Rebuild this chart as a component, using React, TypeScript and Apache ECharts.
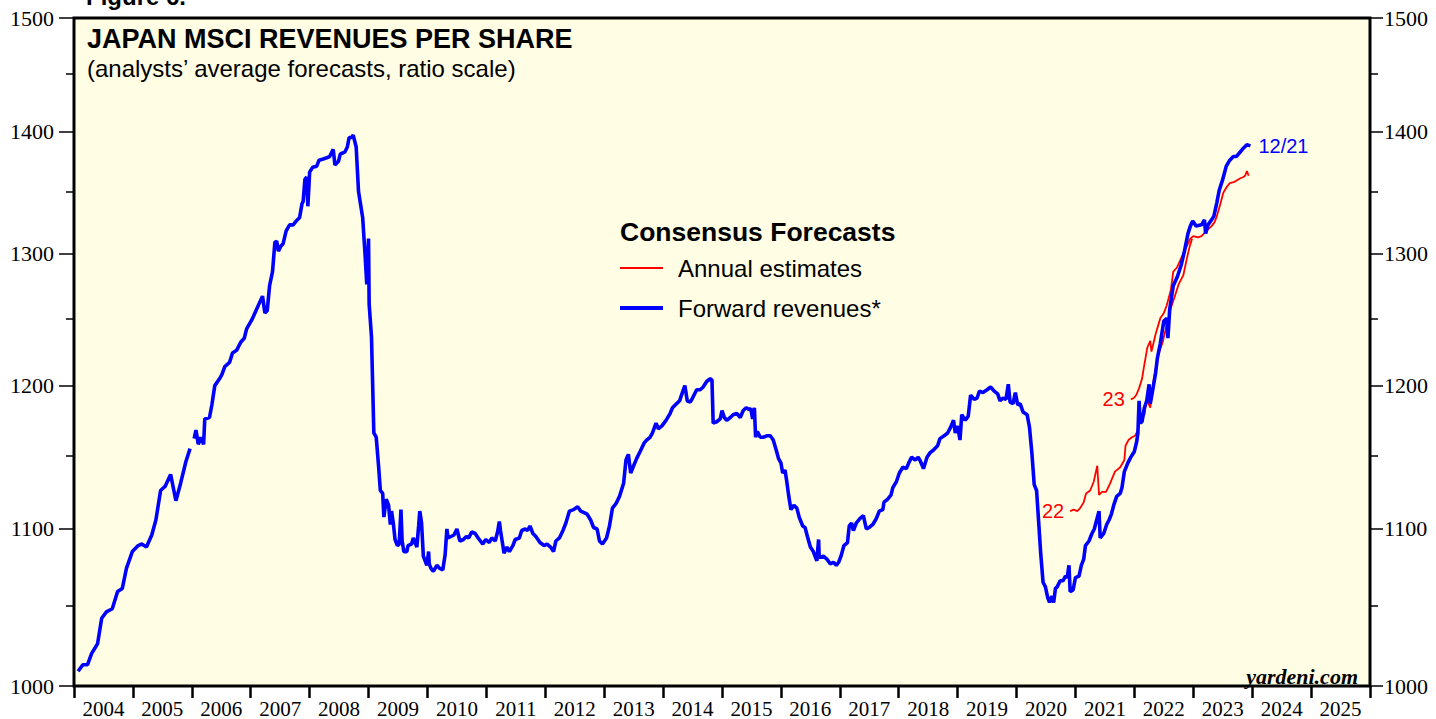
import React, { useEffect, useRef } from "react";
import * as echarts from "echarts";

// ---------- DATA ----------
const yearLabels = [
  "2004", "2005", "2006", "2007", "2008", "2009", "2010", "2011", "2012", "2013", "2014",
  "2015", "2016", "2017", "2018", "2019", "2020", "2021", "2022", "2023", "2024", "2025",
];
const yMajorTicks = [1000, 1100, 1200, 1300, 1400, 1500];
const yMinorTicks = [1050, 1150, 1250, 1350, 1450];

// Forward revenues (decimal year, value); null = gap in the series
const forwardDates = [
  2004.07, 2004.15, 2004.23, 2004.3, 2004.4, 2004.47, 2004.55, 2004.65, 2004.74, 2004.82, 2004.89, 2004.99,
  2005.09, 2005.15, 2005.23, 2005.32, 2005.39, 2005.47, 2005.55, 2005.64, 2005.73, 2005.81, 2005.9, 2005.97,
  2006.0, 2006.04, 2006.07, 2006.11, 2006.15, 2006.2, 2006.22, 2006.3, 2006.34, 2006.39, 2006.47, 2006.51,
  2006.56, 2006.64, 2006.69, 2006.76, 2006.83, 2006.89, 2006.93, 2007.02, 2007.09, 2007.15, 2007.2, 2007.24,
  2007.28, 2007.32, 2007.37, 2007.41, 2007.44, 2007.47, 2007.51, 2007.55, 2007.6, 2007.66, 2007.72, 2007.77,
  2007.83, 2007.87, 2007.89, 2007.92, 2007.95, 2007.97, 2008.0, 2008.05, 2008.12, 2008.16, 2008.23, 2008.29,
  2008.34, 2008.4, 2008.43, 2008.49, 2008.52, 2008.6, 2008.64, 2008.67, 2008.71, 2008.74, 2008.79, 2008.83,
  2008.86, 2008.9, 2008.94, 2008.97, 2009.0, 2009.01, 2009.05, 2009.09, 2009.13, 2009.17, 2009.2, 2009.24,
  2009.26, 2009.3, 2009.34, 2009.37, 2009.39, 2009.42, 2009.45, 2009.49, 2009.52, 2009.55, 2009.57, 2009.6,
  2009.65, 2009.67, 2009.73, 2009.76, 2009.79, 2009.82, 2009.85, 2009.87, 2009.9, 2009.93, 2009.96, 2009.99,
  2010.02, 2010.03, 2010.06, 2010.1, 2010.16, 2010.21, 2010.26, 2010.3, 2010.33, 2010.35, 2010.4, 2010.45,
  2010.5, 2010.55, 2010.61, 2010.66, 2010.7, 2010.75, 2010.81, 2010.86, 2010.94, 2010.99, 2011.05, 2011.09,
  2011.15, 2011.19, 2011.22, 2011.24, 2011.28, 2011.3, 2011.35, 2011.39, 2011.45, 2011.49, 2011.56, 2011.6,
  2011.66, 2011.7, 2011.74, 2011.79, 2011.84, 2011.91, 2011.98, 2012.03, 2012.09, 2012.14, 2012.18, 2012.24,
  2012.3, 2012.35, 2012.41, 2012.48, 2012.55, 2012.6, 2012.66, 2012.71, 2012.77, 2012.82, 2012.88, 2012.92,
  2012.97, 2013.04, 2013.09, 2013.14, 2013.2, 2013.26, 2013.33, 2013.37, 2013.41, 2013.45, 2013.5, 2013.55,
  2013.61, 2013.68, 2013.72, 2013.78, 2013.82, 2013.88, 2013.92, 2013.98, 2014.05, 2014.12, 2014.16, 2014.23,
  2014.28, 2014.32, 2014.37, 2014.41, 2014.46, 2014.5, 2014.57, 2014.63, 2014.68, 2014.74, 2014.8, 2014.83,
  2014.85, 2014.91, 2014.97, 2015.0, 2015.04, 2015.08, 2015.14, 2015.19, 2015.25, 2015.31, 2015.36, 2015.41,
  2015.45, 2015.49, 2015.52, 2015.55, 2015.57, 2015.6, 2015.65, 2015.7, 2015.76, 2015.82, 2015.87, 2015.92,
  2015.96, 2016.0, 2016.03, 2016.07, 2016.1, 2016.13, 2016.17, 2016.22, 2016.27, 2016.31, 2016.37, 2016.41,
  2016.45, 2016.5, 2016.55, 2016.61, 2016.64, 2016.65, 2016.72, 2016.78, 2016.84, 2016.89, 2016.94, 2016.98,
  2017.02, 2017.07, 2017.13, 2017.16, 2017.2, 2017.23, 2017.28, 2017.34, 2017.4, 2017.45, 2017.5, 2017.56,
  2017.62, 2017.67, 2017.73, 2017.75, 2017.81, 2017.87, 2017.9, 2017.96, 2018.01, 2018.07, 2018.13, 2018.17,
  2018.22, 2018.28, 2018.33, 2018.37, 2018.42, 2018.48, 2018.53, 2018.59, 2018.66, 2018.7, 2018.77, 2018.83,
  2018.88, 2018.93, 2018.96, 2019.0, 2019.04, 2019.07, 2019.13, 2019.18, 2019.22, 2019.28, 2019.33, 2019.37,
  2019.43, 2019.5, 2019.56, 2019.62, 2019.68, 2019.72, 2019.77, 2019.82, 2019.86, 2019.89, 2019.94, 2019.98,
  2020.02, 2020.06, 2020.11, 2020.18, 2020.22, 2020.26, 2020.3, 2020.34, 2020.37, 2020.41, 2020.45, 2020.49,
  2020.53, 2020.56, 2020.6, 2020.63, 2020.66, 2020.69, 2020.74, 2020.79, 2020.83, 2020.86, 2020.89, 2020.91,
  2020.96, 2021.0, 2021.06, 2021.1, 2021.14, 2021.17, 2021.23, 2021.28, 2021.32, 2021.36, 2021.4, 2021.42,
  2021.48, 2021.53, 2021.57, 2021.61, 2021.65, 2021.7, 2021.76, 2021.79, 2021.83, 2021.89, 2021.94, 2022.0,
  2022.04, 2022.06, 2022.08, 2022.1, 2022.13, 2022.17, 2022.21, 2022.25, 2022.27, 2022.3, 2022.36, 2022.39,
  2022.44, 2022.5, 2022.55, 2022.57, 2022.6, 2022.66, 2022.73, 2022.8, 2022.85, 2022.91, 2022.95, 2022.99,
  2023.05, 2023.14, 2023.19, 2023.21, 2023.25, 2023.31, 2023.35, 2023.4, 2023.44, 2023.5, 2023.56, 2023.62,
  2023.68, 2023.73, 2023.8, 2023.85, 2023.91, 2023.97,
];
const forwardRevenues = [
  1009, 1013, 1013, 1020, 1026, 1042, 1046, 1048, 1059, 1061, 1074, 1085,
  1089, 1090, 1088, 1096, 1106, 1126, 1129, 1137, 1119, 1131, 1146, 1155,
  null, 1162, 1168, 1158, 1163, 1158, 1176, 1177, 1186, 1200, 1205, 1208,
  1214, 1217, 1224, 1226, 1232, 1235, 1242, 1249, 1256, 1262, 1267, 1254,
  1256, 1275, 1286, 1309, 1310, 1302, 1306, 1308, 1318, 1323, 1323, 1326,
  1329, 1340, 1342, 1360, 1362, 1338, 1366, 1370, 1371, 1376, 1377, 1378,
  1379, 1385, 1372, 1375, 1381, 1383, 1387, 1395, 1395, 1397, 1387, 1350,
  1341, 1329, 1300, 1276, 1312, 1261, 1236, 1166, 1163, 1143, 1126, 1124,
  1108, 1120, 1116, 1103, 1112, 1104, 1093, 1089, 1090, 1113, 1092, 1085,
  1085, 1089, 1090, 1094, 1091, 1088, 1102, 1112, 1104, 1082, 1079, 1076,
  1085, 1077, 1074, 1072, 1076, 1074, 1073, 1083, 1100, 1094, 1095, 1096,
  1100, 1092, 1093, 1095, 1094, 1098, 1097, 1094, 1090, 1093, 1091, 1094,
  1092, 1098, 1105, 1099, 1089, 1084, 1088, 1085, 1089, 1093, 1094, 1099,
  1100, 1099, 1102, 1097, 1095, 1091, 1089, 1090, 1088, 1085, 1092, 1094,
  1099, 1104, 1112, 1113, 1115, 1112, 1111, 1110, 1106, 1101, 1100, 1092,
  1090, 1094, 1102, 1114, 1117, 1122, 1131, 1147, 1151, 1138, 1143, 1148,
  1153, 1159, 1161, 1163, 1166, 1173, 1169, 1171, 1175, 1180, 1184, 1187,
  1189, 1194, 1200, 1189, 1188, 1191, 1197, 1197, 1199, 1203, 1205, 1204,
  1173, 1174, 1176, 1182, 1177, 1175, 1177, 1179, 1180, 1177, 1182, 1184,
  1183, 1183, 1176, 1184, 1163, 1167, 1163, 1163, 1164, 1164, 1161, 1154,
  1148, 1145, 1138, 1140, 1132, 1123, 1113, 1116, 1114, 1108, 1102, 1101,
  1095, 1088, 1085, 1079, 1093, 1081, 1082, 1080, 1077, 1078, 1076, 1078,
  1082, 1089, 1091, 1102, 1104, 1099, 1104, 1107, 1109, 1100, 1101, 1103,
  1107, 1112, 1113, 1118, 1120, 1123, 1128, 1132, 1138, 1142, 1141, 1145,
  1149, 1147, 1149, 1146, 1141, 1149, 1152, 1154, 1157, 1162, 1164, 1166,
  1170, 1175, 1166, 1171, 1161, 1179, 1175, 1178, 1193, 1190, 1191, 1196,
  1195, 1197, 1199, 1196, 1194, 1189, 1191, 1190, 1201, 1188, 1187, 1195,
  1186, 1187, 1181, 1179, 1170, 1152, 1130, 1126, 1108, 1084, 1065, 1062,
  1055, 1052, 1056, 1052, 1061, 1062, 1066, 1066, 1069, 1068, 1076, 1059,
  1060, 1068, 1069, 1076, 1080, 1089, 1092, 1097, 1100, 1106, 1112, 1094,
  1097, 1103, 1106, 1110, 1116, 1122, 1124, 1128, 1139, 1145, 1149, 1153,
  1160, 1166, 1189, 1173, 1174, 1184, 1189, 1201, 1187, 1194, 1209, 1220,
  1231, 1248, 1250, 1235, 1257, 1275, 1282, 1292, 1302, 1316, 1322, 1326,
  1322, 1323, 1327, 1316, 1323, 1327, 1330, 1341, 1351, 1360, 1371, 1376,
  1379, 1379, 1383, 1386, 1389, 1388,
];

// Annual estimates for 2022
const est22Dates = [
  2020.91, 2020.97, 2021.03, 2021.08, 2021.14, 2021.18, 2021.25, 2021.31, 2021.37, 2021.4, 2021.45, 2021.52,
  2021.59, 2021.67, 2021.76, 2021.83, 2021.85, 2021.9, 2021.96, 2022.01, 2022.05, 2022.1, 2022.17, 2022.21,
  2022.27, 2022.33, 2022.4, 2022.48, 2022.55, 2022.62, 2022.68, 2022.75, 2022.83, 2022.89, 2022.94, 2022.98,
];
const est22Values = [
  1112, 1113, 1112, 1114, 1118, 1124, 1126, 1132, 1143, 1123, 1125, 1125,
  1131, 1139, 1142, 1147, 1157, 1161, 1163, 1164, 1167, 1175, 1179, 1190,
  1184, 1205, 1222, 1232, 1245, 1258, 1266, 1276, 1283, 1296, 1306, 1312,
];

// Annual estimates for 2023
const est23Dates = [
  2021.94, 2021.99, 2022.03, 2022.08, 2022.13, 2022.16, 2022.22, 2022.27, 2022.29, 2022.36, 2022.44, 2022.5,
  2022.55, 2022.62, 2022.66, 2022.72, 2022.78, 2022.86, 2022.95, 2023.0, 2023.08, 2023.14, 2023.22, 2023.31,
  2023.36, 2023.4, 2023.46, 2023.51, 2023.57, 2023.62, 2023.7, 2023.8, 2023.85, 2023.88, 2023.91, 2023.94,
];
const est23Values = [
  1190, 1191, 1193, 1198, 1205, 1213, 1228, 1233, 1225, 1238, 1250, 1254,
  1260, 1272, 1286, 1289, 1295, 1303, 1312, 1314, 1313, 1314, 1318, 1322,
  1325, 1330, 1340, 1349, 1354, 1357, 1358, 1361, 1362, 1363, 1367, 1363,
];

// ---------- STYLE ----------
const SANS = "'Liberation Sans', Arial, Helvetica, sans-serif";
const SERIF = "'Liberation Serif', 'Times New Roman', Times, serif";
const BLUE = "#0000FF";
const RED = "#FF0000";

function zip(xs: number[], ys: (number | null)[]) {
  return xs.map((x, i) => [x, ys[i] === null ? "-" : ys[i]]);
}

function startLabelled(xs: number[], ys: number[], label: string) {
  const pts: any[] = zip(xs, ys);
  pts[0] = {
    value: pts[0],
    label: {
      show: true,
      position: "left",
      distance: 6,
      formatter: label,
      color: RED,
      fontSize: 20,
      fontFamily: SANS,
    },
  };
  return pts;
}

export default function App() {
  const ref = useRef<HTMLDivElement>(null);

  useEffect(() => {
    if (!ref.current) return;
    const chart = echarts.init(ref.current, null, { renderer: "svg" });

    const yBase = {
      type: "log",
      logBase: 10,
      min: 1000,
      max: 1500,
      splitLine: { show: false },
      axisLine: { show: false },
    };
    const plain = (v: number) => String(Math.round(v));

    const option: any = {
      animation: false,
      backgroundColor: "#FFFFFF",
      title: {
        text: "JAPAN MSCI REVENUES PER SHARE",
        subtext: "(analysts’ average forecasts, ratio scale)",
        left: 87,
        top: 25,
        padding: 0,
        itemGap: 4,
        textStyle: { fontSize: 27, fontWeight: "bold", color: "#000", fontFamily: SANS },
        subtextStyle: { fontSize: 24, color: "#000", fontFamily: SANS },
      },
      legend: {
        orient: "vertical",
        left: 620,
        top: 256,
        padding: 0,
        itemWidth: 43,
        itemHeight: 14,
        itemGap: 16,
        selectedMode: false,
        data: [
          {
            name: "Annual estimates",
            icon: "path://M0,0h43v2h-43z",
            itemStyle: { color: RED, borderWidth: 0 },
          },
          {
            name: "Forward revenues*",
            icon: "path://M0,0h43v4h-43z",
            itemStyle: { color: BLUE, borderWidth: 0 },
          },
        ],
        textStyle: {
          fontSize: 24,
          lineHeight: 24,
          color: "#000",
          fontFamily: SANS,
          padding: [0, 0, 0, 10],
        },
      },
      grid: {
        left: 74,
        right: 66,
        top: 18,
        bottom: 24,
        show: true,
        backgroundColor: "#FFFEE4",
        borderColor: "#000",
        borderWidth: 3,
        containLabel: false,
      },
      xAxis: [
        {
          type: "value",
          min: 2004,
          max: 2026,
          show: false,
        },
        {
          type: "category",
          data: yearLabels,
          position: "bottom",
          boundaryGap: true,
          axisLine: { show: false },
          axisTick: {
            show: true,
            interval: 0,
            length: 12,
            lineStyle: { color: "#000", width: 2.5 },
          },
          axisLabel: {
            interval: 0,
            margin: 12,
            color: "#000",
            fontSize: 21,
            fontFamily: SERIF,
          },
          splitLine: { show: false },
        },
      ],
      yAxis: [
        {
          ...yBase,
          position: "left",
          axisTick: {
            show: true,
            length: 15,
            customValues: yMajorTicks,
            lineStyle: { color: "#000", width: 1.5 },
          },
          axisLabel: {
            customValues: yMajorTicks,
            formatter: plain,
            margin: 20,
            color: "#000",
            fontSize: 22,
            fontFamily: SERIF,
          },
        },
        {
          ...yBase,
          position: "left",
          axisTick: {
            show: true,
            length: 8,
            customValues: yMinorTicks,
            lineStyle: { color: "#000", width: 1.5 },
          },
          axisLabel: { show: false },
        },
        {
          ...yBase,
          position: "right",
          axisTick: {
            show: true,
            length: 13,
            customValues: yMajorTicks,
            lineStyle: { color: "#000", width: 1.5 },
          },
          axisLabel: {
            customValues: yMajorTicks,
            formatter: plain,
            margin: 14,
            color: "#000",
            fontSize: 22,
            fontFamily: SERIF,
          },
        },
        {
          ...yBase,
          position: "right",
          axisTick: {
            show: true,
            length: 8,
            customValues: yMinorTicks,
            lineStyle: { color: "#000", width: 1.5 },
          },
          axisLabel: { show: false },
        },
      ],
      graphic: [
        {
          type: "text",
          left: 86,
          top: -16,
          style: { text: "Figure 6.", fontSize: 24, fontWeight: "bold", fill: "#000", fontFamily: SANS },
          silent: true,
        },
        {
          type: "text",
          left: 620,
          top: 218,
          style: {
            text: "Consensus Forecasts",
            fontSize: 26.5,
            fontWeight: "bold",
            fill: "#000",
            fontFamily: SANS,
          },
          silent: true,
        },
        {
          type: "text",
          right: 78,
          top: 665,
          style: {
            text: "yardeni.com",
            fontSize: 22,
            fontWeight: "bold",
            fontStyle: "italic",
            fill: "#000",
            fontFamily: SERIF,
          },
          silent: true,
        },
      ],
      series: [
        {
          name: "Annual estimates",
          type: "line",
          xAxisIndex: 0,
          yAxisIndex: 0,
          data: startLabelled(est22Dates, est22Values, "22"),
          symbol: "circle",
          symbolSize: 0,
          showSymbol: true,
          showAllSymbol: true,
          lineStyle: { color: RED, width: 1.8 },
          itemStyle: { color: RED },
          z: 2,
        },
        {
          name: "Annual estimates",
          type: "line",
          xAxisIndex: 0,
          yAxisIndex: 0,
          data: startLabelled(est23Dates, est23Values, "23"),
          symbol: "circle",
          symbolSize: 0,
          showSymbol: true,
          showAllSymbol: true,
          lineStyle: { color: RED, width: 1.8 },
          itemStyle: { color: RED },
          z: 2,
        },
        {
          name: "Forward revenues*",
          type: "line",
          xAxisIndex: 0,
          yAxisIndex: 0,
          data: zip(forwardDates, forwardRevenues),
          showSymbol: false,
          connectNulls: false,
          lineStyle: { color: BLUE, width: 3.6 },
          itemStyle: { color: BLUE },
          endLabel: {
            show: true,
            formatter: "12/21",
            color: BLUE,
            fontSize: 20,
            fontFamily: SANS,
            distance: 8,
          },
          z: 3,
        },
      ],
    };

    chart.setOption(option);
    return () => chart.dispose();
  }, []);

  return (
    <div
      ref={ref}
      style={{ position: "fixed", left: 0, top: 0, width: 1436, height: 719 }}
    />
  );
}
